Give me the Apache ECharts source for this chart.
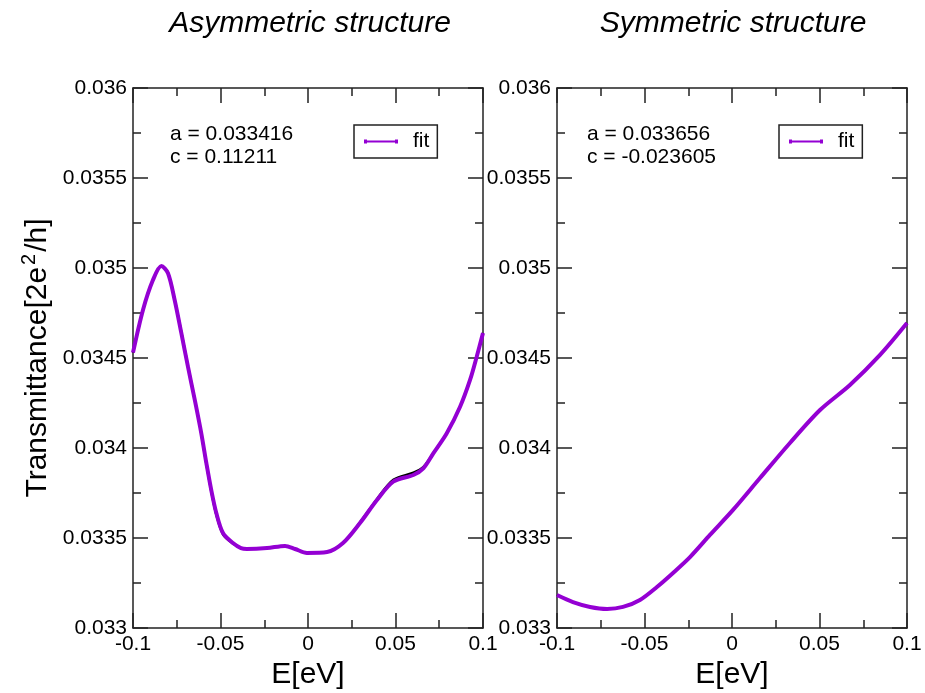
<!DOCTYPE html>
<html>
<head>
<meta charset="utf-8">
<script src="https://cdn.jsdelivr.net/npm/echarts@6/dist/echarts.min.js"></script>
<style>html,body{margin:0;padding:0;background:#fff}#c{width:925px;height:693px}</style>
</head>
<body>
<div id="c"></div>
<script>
// ---- data ----
var panelTitles = ['Asymmetric structure', 'Symmetric structure'];
var xTicks = [-0.1, -0.05, 0, 0.05, 0.1];
var yTicks = [0.033, 0.0335, 0.034, 0.0345, 0.035, 0.0355, 0.036];
var asymNotes = ['a = 0.033416', 'c = 0.11211'];
var symNotes = ['a = 0.033656', 'c = -0.023605'];

var asymE =   [-0.1, -0.0943, -0.0886, -0.0838, -0.08, -0.0762, -0.0724, -0.0686, -0.0647, -0.061, -0.0581, -0.0553, -0.0524, -0.0486, -0.0429, -0.0383, -0.0349, -0.0234, -0.0131, -0.0074, -0.0006, 0.0109, 0.02, 0.0297, 0.0394, 0.0487, 0.0602, 0.0659, 0.0716, 0.0793, 0.0869, 0.0926, 0.0964, 0.1];
var asymFit = [0.034530, 0.034767, 0.034933, 0.035011, 0.034971, 0.034822, 0.034639, 0.034452, 0.034267, 0.034083, 0.033917, 0.033767, 0.033639, 0.033528, 0.033472, 0.033444, 0.033439, 0.033444, 0.033456, 0.033439, 0.033417, 0.033422, 0.033472, 0.033583, 0.033711, 0.033813, 0.033850, 0.033887, 0.033970, 0.034082, 0.034229, 0.034378, 0.034507, 0.034639];
var asymData = [0.034530, 0.034767, 0.034933, 0.035011, 0.034975, 0.034830, 0.034650, 0.034462, 0.034272, 0.034075, 0.033905, 0.033755, 0.033625, 0.033518, 0.033468, 0.033444, 0.033439, 0.033444, 0.033456, 0.033439, 0.033417, 0.033422, 0.033472, 0.033588, 0.033718, 0.033824, 0.033864, 0.033896, 0.033973, 0.034083, 0.034229, 0.034378, 0.034507, 0.034639];

var symE =   [-0.1, -0.0909, -0.0811, -0.0714, -0.0623, -0.0526, -0.0429, -0.0337, -0.024, -0.0126, 0.0006, 0.016, 0.0331, 0.0503, 0.0674, 0.0846, 0.1];
var symFit = [0.033183, 0.033144, 0.033117, 0.033106, 0.033117, 0.033156, 0.033228, 0.033306, 0.033394, 0.033517, 0.033656, 0.033833, 0.034028, 0.034211, 0.03435, 0.034517, 0.034694];
var symData = [0.033183, 0.033144, 0.033117, 0.033106, 0.033117, 0.033156, 0.033228, 0.033306, 0.033394, 0.033517, 0.033656, 0.033833, 0.034028, 0.034211, 0.03435, 0.034517, 0.034694];

function pairs(xs, ys) { return xs.map(function (x, i) { return [x, ys[i]]; }); }

var FONT = 'Liberation Sans';
var AXC = '#222';
var PURPLE = '#9400d3';

function xAxisDef(grid, pos, showLabel, withName) {
  return {
    type: 'value', gridIndex: grid, position: pos,
    min: xTicks[0], max: xTicks[xTicks.length - 1], interval: 0.05,
    axisLine: { show: true, onZero: false, lineStyle: { color: AXC, width: 1.5 } },
    axisTick: { show: true, inside: true, length: 15, lineStyle: { color: AXC, width: 1.5 } },
    minorTick: { show: true, splitNumber: 2, length: 8, lineStyle: { color: AXC, width: 1.5 } },
    splitLine: { show: false },
    axisLabel: { show: showLabel, fontFamily: FONT, fontSize: 21, color: '#000', margin: 6,
      formatter: function (v) { return String(+v.toFixed(4)); } },
    name: withName ? 'E[eV]' : '', nameLocation: 'middle', nameGap: 30,
    nameTextStyle: { fontFamily: FONT, fontSize: 30, color: '#000' }
  };
}
function yAxisDef(grid, pos, showLabel, withName) {
  return {
    type: 'value', gridIndex: grid, position: pos,
    min: yTicks[0], max: yTicks[yTicks.length - 1], interval: 0.0005,
    axisLine: { show: true, onZero: false, lineStyle: { color: AXC, width: 1.5 } },
    axisTick: { show: true, inside: true, length: 15, lineStyle: { color: AXC, width: 1.5 } },
    minorTick: { show: true, splitNumber: 2, length: 8, lineStyle: { color: AXC, width: 1.5 } },
    splitLine: { show: false },
    axisLabel: { show: showLabel, fontFamily: FONT, fontSize: 21, color: '#000', margin: 6,
      formatter: function (v) { return String(+v.toFixed(5)); } },
    name: withName ? '{a|Transmittance[2e}{s|2}{a|/h]}' : '',
    nameLocation: 'middle', nameGap: 80, nameRotate: 90,
    nameTextStyle: { fontFamily: FONT, fontSize: 30, color: '#000',
      rich: { a: { fontFamily: FONT, fontSize: 30, color: '#000', verticalAlign: 'bottom' },
              s: { fontFamily: FONT, fontSize: 20, color: '#000', verticalAlign: 'bottom', padding: [0, 2, 14, 2] } } }
  };
}

var legendIcon = 'path://M0,4h34v2h-34z M0,3h3v4h-3z M31,3h3v4h-3z';
function legendDef(left) {
  return {
    left: left, top: 125, orient: 'vertical', data: ['fit'],
    padding: [6, 8, 6, 10], borderColor: AXC, borderWidth: 1.5,
    itemWidth: 34, itemHeight: 10, icon: legendIcon,
    textStyle: { fontFamily: FONT, fontSize: 21, color: '#000', padding: [0, 0, 0, 10] }
  };
}

function noteText(x, y, t) {
  return { type: 'text', x: x, y: y, style: { text: t, font: '21px "' + FONT + '"', fill: '#000', textVerticalAlign: 'middle' } };
}
function titleText(x, t) {
  return { type: 'text', x: x, y: 24, style: { text: t, font: 'italic 30px "' + FONT + '"', fill: '#000', textAlign: 'center', textVerticalAlign: 'middle' } };
}

var option = {
  backgroundColor: '#fff',
  animation: false,
  grid: [
    { left: 133, top: 88, width: 350, height: 540, outerBoundsMode: 'none', containLabel: false },
    { left: 557, top: 88, width: 350, height: 540, outerBoundsMode: 'none', containLabel: false }
  ],
  xAxis: [xAxisDef(0, 'bottom', true, true), xAxisDef(0, 'top', false, false),
          xAxisDef(1, 'bottom', true, true), xAxisDef(1, 'top', false, false)],
  yAxis: [yAxisDef(0, 'left', true, true), yAxisDef(0, 'right', false, false),
          yAxisDef(1, 'left', true, false), yAxisDef(1, 'right', false, false)],
  legend: [legendDef(354), legendDef(779)],
  graphic: [
    titleText(310, panelTitles[0]), titleText(733, panelTitles[1]),
    noteText(170, 134, asymNotes[0]), noteText(170, 157, asymNotes[1]),
    noteText(587, 134, symNotes[0]), noteText(587, 157, symNotes[1])
  ],
  series: [
    { name: 'data', type: 'line', xAxisIndex: 0, yAxisIndex: 0, data: pairs(asymE, asymData), smooth: 0.3,
      showSymbol: false, lineStyle: { color: '#000', width: 2 }, itemStyle: { color: '#000' }, z: 2 },
    { name: 'fit', type: 'line', xAxisIndex: 0, yAxisIndex: 0, data: pairs(asymE, asymFit), smooth: 0.3,
      showSymbol: false, lineStyle: { color: PURPLE, width: 4 }, itemStyle: { color: PURPLE }, z: 3 },
    { name: 'data', type: 'line', xAxisIndex: 2, yAxisIndex: 2, data: pairs(symE, symData), smooth: 0.3,
      showSymbol: false, lineStyle: { color: '#000', width: 2 }, itemStyle: { color: '#000' }, z: 2 },
    { name: 'fit', type: 'line', xAxisIndex: 2, yAxisIndex: 2, data: pairs(symE, symFit), smooth: 0.3,
      showSymbol: false, lineStyle: { color: PURPLE, width: 4 }, itemStyle: { color: PURPLE }, z: 3 }
  ]
};
var chart = echarts.init(document.getElementById('c'), null, { renderer: 'canvas' });
chart.setOption(option);
</script>
</body>
</html>
